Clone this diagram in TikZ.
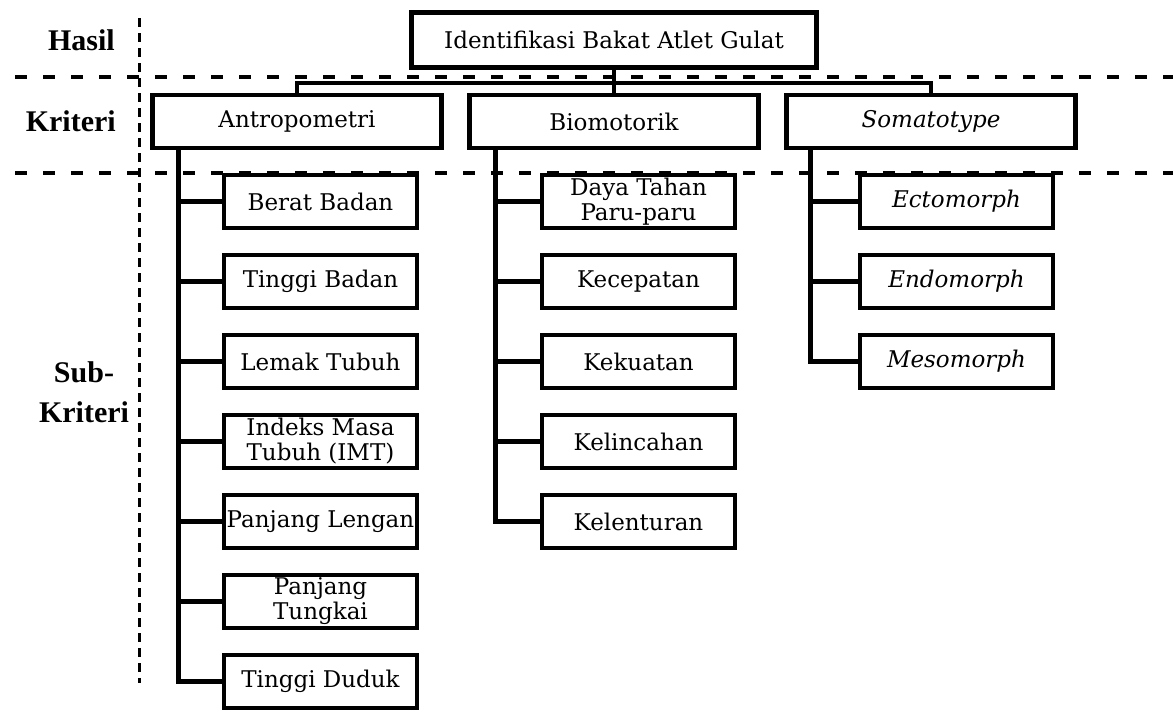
\documentclass[tikz,border=0pt]{standalone}
\usepackage{fontspec}
\setmainfont{DejaVu Serif}
\newfontfamily\labelfont{Liberation Serif}
\usepackage{tikz}
\usetikzlibrary{positioning}
\newcommand\mainsize{\fontsize{23}{25}\selectfont}
\newcommand\labelsize{\labelfont\bfseries\fontsize{30}{40}\selectfont}

\begin{document}
\begin{tikzpicture}[x=1pt,y=1pt,-,auto,node distance=80pt,line width=4.5pt]
	\tikzstyle{box}=[draw, rectangle, fill=white, inner sep=0pt, align=center, minimum height=53pt, font=\mainsize]
	\tikzstyle{krit}=[box, minimum width=289pt]
	\tikzstyle{sub}=[box, minimum width=193pt]
	\tikzstyle{lbl}=[inner sep=0pt, align=center, font=\labelsize]
	\tikzstyle{sep}=[line width=4pt, dash pattern=on 12pt off 16pt]
	\useasboundingbox (0,0) rectangle (1173,-710);

	% garis batas
	\draw[sep] (15,-77) -- (1173,-77);
	\draw[sep] (15,-173) -- (1173,-173);
	\draw[line width=3pt, dash pattern=on 9pt off 6pt] (139,-18) -- (139,-683);

	\node[lbl] (hasil) [anchor=east] at (117,-40) {Hasil};
	\node[lbl] (kriteri) [anchor=east] at (118,-121) {Kriteri};
	\node[lbl] (subkrit) at (84,-392) {Sub-\\Kriteri};

	\node[box, minimum width=405pt, minimum height=55pt] (root) at (614,-40) {Identifikasi Bakat Atlet Gulat};

	\node[krit] (antro) at (297,-121.5) {Antropometri};
	\node[krit] (biomot) [right of=antro, node distance=317pt] {Biomotorik};
	\node[krit] (somato) [right of=biomot, node distance=317pt] {\itshape Somatotype};

	\node[sub] (berat) at (320.5,-201.5) {Berat Badan};
	\node[sub] (tbadan) [below of=berat] {Tinggi Badan};
	\node[sub] (lemak) [below of=tbadan] {Lemak Tubuh};
	\node[sub] (imt) [below of=lemak] {Indeks Masa\\Tubuh (IMT)};
	\node[sub] (lengan) [below of=imt] {Panjang Lengan};
	\node[sub] (tungkai) [below of=lengan] {Panjang\\Tungkai};
	\node[sub] (duduk) [below of=tungkai] {Tinggi Duduk};

	\node[sub] (daya) at (638.5,-201.5) {Daya Tahan\\Paru-paru};
	\node[sub] (cepat) [below of=daya] {Kecepatan};
	\node[sub] (kuat) [below of=cepat] {Kekuatan};
	\node[sub] (lincah) [below of=kuat] {Kelincahan};
	\node[sub] (lentur) [below of=lincah] {Kelenturan};

	\node[sub] (ecto) at (956.5,-201.5) {\itshape Ectomorph};
	\node[sub] (endo) [below of=ecto] {\itshape Endomorph};
	\node[sub] (meso) [below of=endo] {\itshape Mesomorph};

	\draw (root.south) -- ++(0,-13) -| (antro.north);
	\draw (root.south) -- (biomot.north);
	\draw (root.south) -- ++(0,-13) -| (somato.north);

	\foreach \n in {berat,tbadan,lemak,imt,lengan,tungkai,duduk}{
		\draw ([xshift=28pt]antro.south west) |- (\n.west);
	}
	\foreach \n in {daya,cepat,kuat,lincah,lentur}{
		\draw ([xshift=28pt]biomot.south west) |- (\n.west);
	}
	\foreach \n in {ecto,endo,meso}{
		\draw ([xshift=26pt]somato.south west) |- (\n.west);
	}
\end{tikzpicture}
\end{document}
